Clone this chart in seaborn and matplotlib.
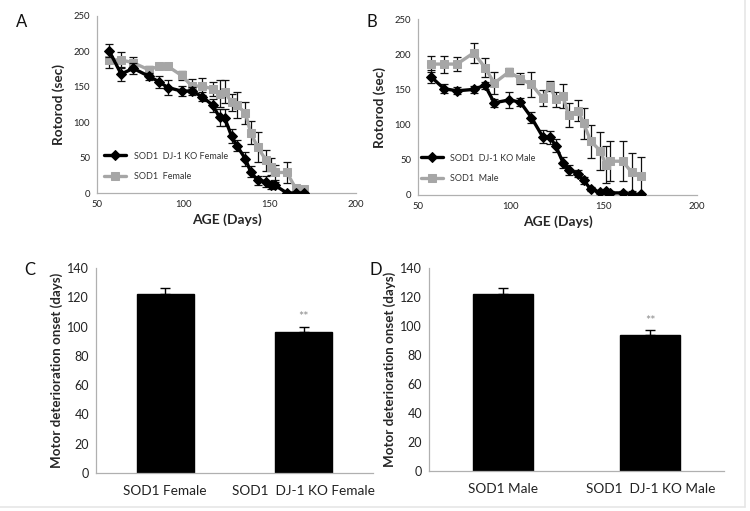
import numpy as np
import matplotlib
matplotlib.use("Agg")
import matplotlib.pyplot as plt
from matplotlib.lines import Line2D
import seaborn as sns

# ── data ───────────────────────────────────────────────────
ages = [57, 64, 71, 80, 86, 91, 99, 105, 111, 117, 121, 124, 128, 131,
        136, 139, 143, 148, 151, 153, 160, 165, 170]

ko_female = [201, 168, 176, 165, 157, 149, 144, 144, 136, 124, 107, 106, 80, 67,
             48, 30, 18, 16, 11, 11, 0, 0, 0]
ko_female_err = [9, 10, 8, 5, 8, 10, 7, 6, 6, 9, 12, 12, 10, 8,
                 10, 8, 6, 8, 6, 4, 0, 0, 0]
sod1_female = [188, 188, 184, 174, 179, 179, 166, 151, 151, 147, 140, 143, 128, 124,
               113, 85, 65, 46, 37, 29, 29, 7, 5]
sod1_female_err = [12, 11, 8, 5, 4, 4, 7, 10, 12, 10, 19, 16, 12, 18,
                   15, 16, 21, 15, 12, 10, 15, 5, 3]

ko_male = [168, 151, 148, 150, 156, 131, 135, 132, 110, 83, 82, 70, 46, 36,
           30, 21, 8, 4, 5, 3, 3, 1, 1]
ko_male_err = [9, 6, 5, 5, 5, 6, 11, 6, 8, 9, 9, 9, 8, 7,
               5, 5, 3, 3, 3, 2, 2, 1, 1]
sod1_male = [186, 186, 186, 202, 181, 159, 175, 165, 157, 138, 155, 136, 140, 113,
             120, 102, 76, 63, 43, 48, 48, 32, 27]
sod1_male_err = [11, 12, 10, 14, 13, 16, 6, 8, 18, 11, 7, 11, 17, 17,
                 15, 22, 23, 27, 26, 28, 28, 27, 27]

female_groups = ['SOD1 Female', 'SOD1  DJ-1 KO Female']
female_onset = [122, 96]
female_onset_err = [4.5, 4]
male_groups = ['SOD1 Male', 'SOD1  DJ-1 KO Male']
male_onset = [122, 94]
male_onset_err = [4, 3]

# ── style ──────────────────────────────────────────────────
sns.set_theme(style='white')
plt.rcParams['font.family'] = ['Lato', 'DejaVu Sans']

GREY = '#a6a6a6'
AXCOL = '#b0b0b0'

fig = plt.figure(figsize=(7.5, 5.11), dpi=100)
fig.patch.set_facecolor('white')


def style_axes(ax, tick_size):
    for s in ['top', 'right']:
        ax.spines[s].set_visible(False)
    for s in ['left', 'bottom']:
        ax.spines[s].set_color(AXCOL)
        ax.spines[s].set_linewidth(0.9)
    ax.tick_params(axis='both', direction='out', length=3, width=0.8,
                   color=AXCOL, labelsize=tick_size, labelcolor='#222222', pad=2)


def rotorod_panel(rect, ko, ko_err, wt, wt_err, ko_label, wt_label, leg_anchor):
    ax = fig.add_axes(rect)
    sns.lineplot(x=ages, y=wt, ax=ax, color=GREY, linewidth=2.4, marker='s',
                 markersize=6.3, markeredgecolor=GREY, label=wt_label, zorder=3)
    ax.errorbar(ages, wt, yerr=wt_err, fmt='none', ecolor='#111111',
                elinewidth=0.9, capsize=2.6, capthick=0.9, zorder=2)
    sns.lineplot(x=ages, y=ko, ax=ax, color='black', linewidth=2.4, marker='D',
                 markersize=4.6, markeredgecolor='black', label=ko_label, zorder=5)
    ax.errorbar(ages, ko, yerr=ko_err, fmt='none', ecolor='#111111',
                elinewidth=0.9, capsize=2.6, capthick=0.9, zorder=4)
    ax.set_xlim(50, 200)
    ax.set_ylim(0, 250)
    ax.set_xticks([50, 100, 150, 200])
    ax.set_yticks([0, 50, 100, 150, 200, 250])
    style_axes(ax, 6.8)
    ax.set_xlabel('AGE (Days)', fontsize=10, fontweight='bold', labelpad=3)
    ax.set_ylabel('Rotorod (sec)', fontsize=9.8, fontweight='bold', labelpad=6)
    h, l = ax.get_legend_handles_labels()
    ax.legend(h[::-1], l[::-1], loc='lower left', bbox_to_anchor=leg_anchor,
              frameon=False, fontsize=6.5, labelcolor='#333333',
              handlelength=2.5, labelspacing=1.3, handletextpad=0.8)
    return ax


axA = rotorod_panel([0.1293, 0.6223, 0.3453, 0.3464], ko_female, ko_female_err,
                    sod1_female, sod1_female_err,
                    'SOD1  DJ-1 KO Female', 'SOD1  Female', (-0.005, 0.02))
axB = rotorod_panel([0.5573, 0.6184, 0.372, 0.3444], ko_male, ko_male_err,
                    sod1_male, sod1_male_err,
                    'SOD1  DJ-1 KO Male', 'SOD1  Male', (-0.02, 0.02))


def onset_panel(rect, groups, vals, errs):
    ax = fig.add_axes(rect)
    sns.barplot(x=groups, y=vals, ax=ax, color='black', width=0.41,
                saturation=1, edgecolor='black')
    ax.errorbar([0, 1], vals, yerr=[[0, 0], errs], fmt='none', ecolor='black',
                elinewidth=1.0, capsize=3.5, capthick=1.0)
    ax.text(1, vals[1] + errs[1] + 2.5, '**', ha='center', va='bottom',
            fontsize=9, color='#8c8c8c')
    ax.set_xlim(-0.5, 1.5)
    ax.set_ylim(0, 140)
    ax.set_yticks(range(0, 141, 20))
    style_axes(ax, 9)
    ax.tick_params(axis='x', length=0, labelsize=9.8, pad=9)
    ax.set_xticks([-0.5, 0.5, 1.5], minor=True)
    ax.tick_params(axis='x', which='minor', direction='out', length=4,
                   width=0.8, color=AXCOL)
    ax.set_xlabel('')
    ax.set_ylabel('Motor deterioration onset (days)', fontsize=9.6,
                  fontweight='bold', labelpad=3)
    return ax


axC = onset_panel([0.128, 0.0744, 0.3693, 0.4012], female_groups,
                  female_onset, female_onset_err)
axD = onset_panel([0.572, 0.0783, 0.3933, 0.3973], male_groups,
                  male_onset, male_onset_err)

# panel letters
for letter, (x, y) in {'A': (0.029, 0.957), 'B': (0.496, 0.957),
                       'C': (0.040, 0.472), 'D': (0.501, 0.472)}.items():
    fig.text(x, y, letter, fontsize=12, ha='center', va='center', color='#111111')

# faint frame at the right and bottom edges
fig.add_artist(Line2D([0.993, 0.993], [0.008, 1.0], color='#e6e6e6', lw=1.2))
fig.add_artist(Line2D([0.0, 0.993], [0.008, 0.008], color='#e6e6e6', lw=1.2))

fig.savefig('out.png', dpi=100)
